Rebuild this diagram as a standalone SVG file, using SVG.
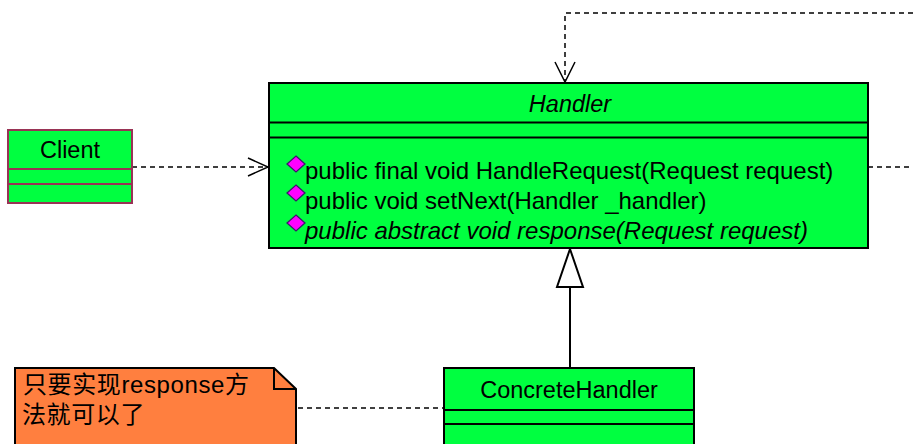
<svg xmlns="http://www.w3.org/2000/svg" width="913" height="444" viewBox="0 0 913 444">
<style>
.box{fill:#00FF40;stroke:#000;stroke-width:2}
.sep{stroke:#000;stroke-width:2}
.t{font-family:"Liberation Sans",Arial,sans-serif;font-size:23.5px;fill:#000}
.m{font-size:24px}
.c{text-anchor:middle}
.i{font-style:italic}
.dash{fill:none;stroke:#000;stroke-width:1.5;stroke-dasharray:5 4}
.arr{fill:none;stroke:#000;stroke-width:1.5}
.dia{fill:#FF00FF;stroke:#3a1a6a;stroke-width:1.3}
.n{font-family:"Liberation Sans","Noto Sans CJK SC",sans-serif;font-size:24px;letter-spacing:0.6px}
</style>
<rect width="913" height="444" fill="#fff"/>
<g id="connectors">
  <polyline class="dash" points="913,13 565,13 565,82"/>
  <polyline class="arr" points="555,62 565,82 575,62"/>
  <line class="dash" x1="868" y1="167" x2="913" y2="167"/>
  <line class="dash" x1="132" y1="167" x2="268" y2="167"/>
  <polyline class="arr" points="248,158 268,167 248,176"/>
  <line x1="570" y1="287" x2="570" y2="368" stroke="#000" stroke-width="2"/>
  <polygon points="570,249 557,287 583,287" fill="#fff" stroke="#000" stroke-width="2"/>
  <line x1="298" y1="408" x2="444" y2="408" stroke="#404040" stroke-width="2" stroke-dasharray="5 4"/>
</g>
<g id="handler">
  <rect class="box" x="269" y="83" width="599" height="165"/>
  <line class="sep" x1="269" y1="122.5" x2="868" y2="122.5"/>
  <line class="sep" x1="269" y1="137.5" x2="868" y2="137.5"/>
  <text class="t c i" x="570" y="112">Handler</text>
  <polygon class="dia" points="296,156 305,164 296,172 287,164"/>
  <polygon class="dia" points="296,185 305,193 296,201 287,193"/>
  <polygon class="dia" points="296,215 305,223 296,231 287,223"/>
  <text class="t m" x="305" y="179">public final void HandleRequest(Request request)</text>
  <text class="t m" x="305" y="209">public void setNext(Handler _handler)</text>
  <text class="t m i" x="305" y="239">public abstract void response(Request request)</text>
</g>
<g id="client">
  <rect x="8" y="130" width="124" height="73" fill="#00FF40" stroke="#993355" stroke-width="2"/>
  <line x1="8" y1="169" x2="132" y2="169" stroke="#993355" stroke-width="2"/>
  <line x1="8" y1="184" x2="132" y2="184" stroke="#993355" stroke-width="2"/>
  <text class="t c" x="70" y="158">Client</text>
</g>
<g id="concretehandler">
  <rect class="box" x="444" y="368" width="250" height="80"/>
  <line class="sep" x1="444" y1="410" x2="694" y2="410"/>
  <line class="sep" x1="444" y1="424" x2="694" y2="424"/>
  <text class="t c" x="569" y="398">ConcreteHandler</text>
</g>
<g id="note">
  <polygon points="15,368 274,368 296,389 296,448 15,448" fill="#FF7F3F" stroke="#000" stroke-width="2"/>
  <polyline points="274,368 274,389 296,389" fill="none" stroke="#000" stroke-width="2"/>
  <text class="n" x="23" y="393">只要实现response方</text>
  <text class="n" x="22" y="423">法就可以了</text>
</g>
</svg>
